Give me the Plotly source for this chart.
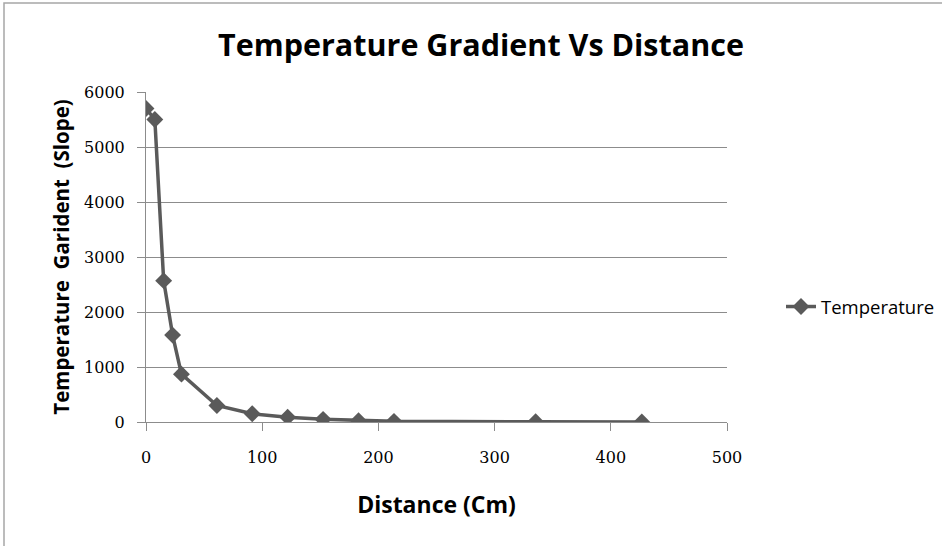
import plotly.graph_objects as go

# Distance from the heat source (cm) and measured temperature gradient (slope)
distance_cm = [0, 7.6, 15.2, 22.9, 30.5, 61.0, 91.4, 121.9, 152.4, 182.9, 213.4, 335.3, 426.7]
gradient = [5700, 5500, 2570, 1580, 870, 300, 150, 88, 48, 25, 12, 4, 2]

series_name = "Temperature"
x_ticks = [0, 100, 200, 300, 400, 500]
y_ticks = [0, 1000, 2000, 3000, 4000, 5000, 6000]

LINE = "#5a5a5a"
AXIS = "#8c8c8c"
GRID = "#8c8c8c"

fig = go.Figure()
fig.add_trace(go.Scatter(
    x=distance_cm, y=gradient, name=series_name, mode="lines+markers",
    line=dict(color=LINE, width=3.5),
    marker=dict(symbol="diamond", size=13, color=LINE),
    showlegend=True,
))

# Plot-area pixel box used for the outer frame
L, R, T, B, W, H = 146, 727, 92, 422, 942, 546
pw, ph = R - L, B - T

fig.update_layout(
    width=W, height=H,
    margin=dict(l=L, r=W - R, t=T, b=H - B, autoexpand=False),
    paper_bgcolor="white", plot_bgcolor="white",
    title=dict(text="<b>Temperature Gradient Vs Distance</b>",
               font=dict(family="Open Sans", size=30.5, color="black"),
               x=481 / W, xanchor="center", y=1 - 45 / H, yanchor="middle"),
    font=dict(family="DejaVu Serif", size=16, color="black"),
    legend=dict(x=(781 - L) / pw, y=(B - 307) / ph, xanchor="left", yanchor="middle",
                font=dict(family="Open Sans", size=18.5, color="black"),
                bgcolor="rgba(0,0,0,0)", itemwidth=30),
    xaxis=dict(range=[0, 500], tickvals=x_ticks, ticks="outside", ticklen=8,
               tickcolor=AXIS, showline=True, linecolor=AXIS, linewidth=1,
               showgrid=False, zeroline=False, ticklabelstandoff=13,
               tickfont=dict(family="DejaVu Serif", size=16),
               title=dict(text="<b>Distance (Cm)</b>",
                          font=dict(family="Open Sans", size=23), standoff=30)),
    yaxis=dict(range=[0, 6000], tickvals=y_ticks, ticks="outside", ticklen=8,
               tickcolor=AXIS, showline=True, linecolor=AXIS, linewidth=1,
               showgrid=True, gridcolor=GRID, gridwidth=1, zeroline=False,
               ticklabelstandoff=9,
               tickfont=dict(family="DejaVu Serif", size=16),
               title=dict(text="<b>Temperature  Garident  (Slope)</b>",
                          font=dict(family="Open Sans", size=20.5), standoff=8)),
    shapes=[dict(type="rect", xref="paper", yref="paper",
                 x0=(4 - L) / pw, x1=(W + 20 - L) / pw,
                 y0=(B - (H + 20)) / ph, y1=(B - 3) / ph,
                 line=dict(color="#a6a6a6", width=1.5), fillcolor="rgba(0,0,0,0)",
                 layer="below")],
)

fig.write_html("out.html")
